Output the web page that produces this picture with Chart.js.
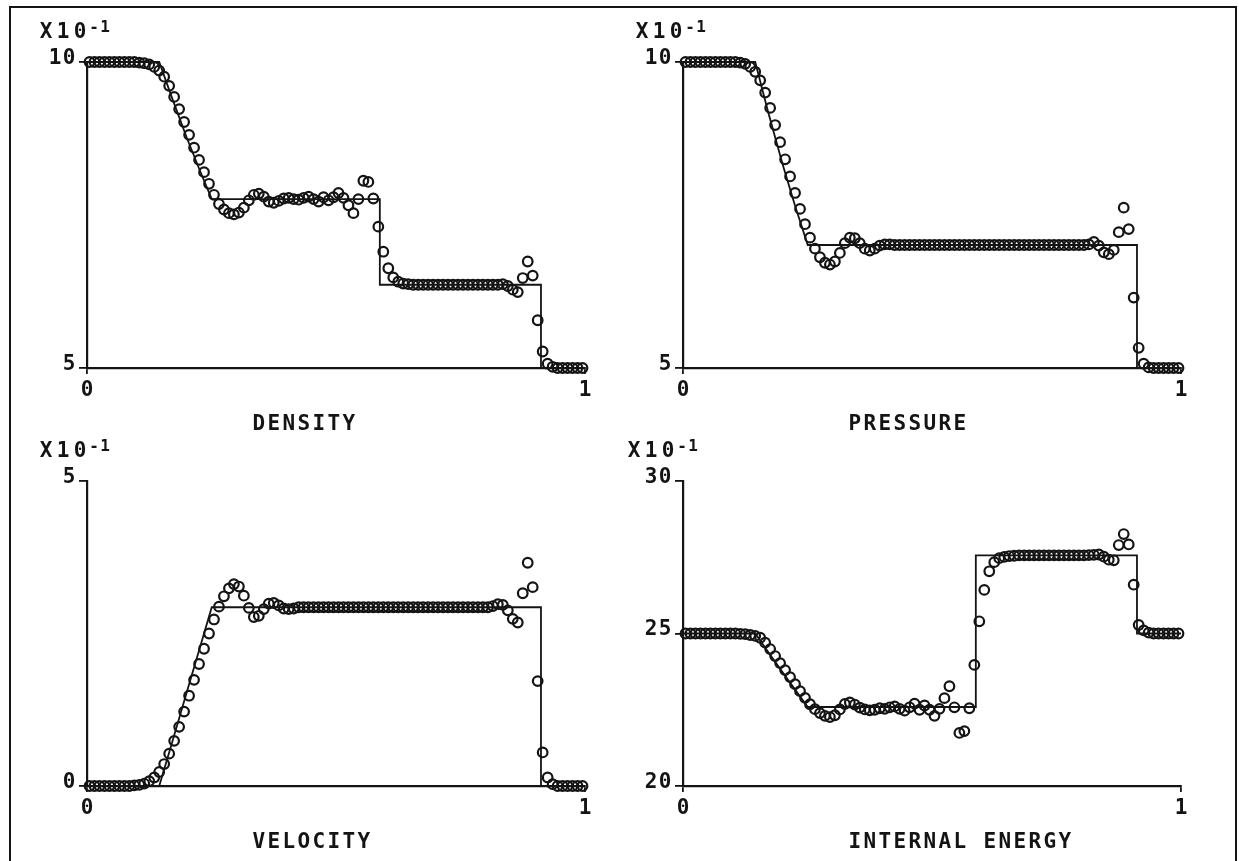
<!DOCTYPE html>
<html>
<head>
<meta charset="utf-8">
<title>Shock tube</title>
<script src="https://cdn.jsdelivr.net/npm/chart.js@4.4.1/dist/chart.umd.min.js"></script>
<style>
    html, body { margin: 0; padding: 0; background: #fff; }
    #page { position: relative; width: 1239px; height: 861px; overflow: hidden; background: #fff; }
    #frame {
        position: absolute; left: 9px; top: 6px; width: 1228px; height: 900px;
        border: 2.5px solid #141414; box-sizing: border-box;
    }
    canvas { position: absolute; }
</style>
</head>
<body>
<div id="page">
    <div id="frame"></div>
    <canvas id="density-chart" width="620" height="430" style="left:0px;top:0px;width:620px;height:430px"></canvas>
    <canvas id="pressure-chart" width="619" height="430" style="left:620px;top:0px;width:619px;height:430px"></canvas>
    <canvas id="velocity-chart" width="620" height="431" style="left:0px;top:430px;width:620px;height:431px"></canvas>
    <canvas id="energy-chart" width="619" height="431" style="left:620px;top:430px;width:619px;height:431px"></canvas>
</div>
<script>
// cell centres, 100 cells on [0, 1]
const cellX = [
    0.005, 0.015, 0.025, 0.035, 0.045, 0.055, 0.065, 0.075, 0.085, 0.095,
    0.105, 0.115, 0.125, 0.135, 0.145, 0.155, 0.165, 0.175, 0.185, 0.195,
    0.205, 0.215, 0.225, 0.235, 0.245, 0.255, 0.265, 0.275, 0.285, 0.295,
    0.305, 0.315, 0.325, 0.335, 0.345, 0.355, 0.365, 0.375, 0.385, 0.395,
    0.405, 0.415, 0.425, 0.435, 0.445, 0.455, 0.465, 0.475, 0.485, 0.495,
    0.505, 0.515, 0.525, 0.535, 0.545, 0.555, 0.565, 0.575, 0.585, 0.595,
    0.605, 0.615, 0.625, 0.635, 0.645, 0.655, 0.665, 0.675, 0.685, 0.695,
    0.705, 0.715, 0.725, 0.735, 0.745, 0.755, 0.765, 0.775, 0.785, 0.795,
    0.805, 0.815, 0.825, 0.835, 0.845, 0.855, 0.865, 0.875, 0.885, 0.895,
    0.905, 0.915, 0.925, 0.935, 0.945, 0.955, 0.965, 0.975, 0.985, 0.995
];

// computed values (circles)
const densityNum = [
    1.000, 1.000, 1.000, 1.000, 1.000, 1.000, 1.000, 1.000, 1.000, 1.000,
    0.999, 0.998, 0.996, 0.992, 0.986, 0.976, 0.961, 0.943, 0.923, 0.902,
    0.881, 0.860, 0.840, 0.820, 0.801, 0.783, 0.768, 0.759, 0.753, 0.751,
    0.754, 0.762, 0.774, 0.783, 0.785, 0.780, 0.772, 0.770, 0.773, 0.777,
    0.778, 0.776, 0.775, 0.778, 0.780, 0.776, 0.772, 0.779, 0.774, 0.779,
    0.786, 0.778, 0.766, 0.753, 0.776, 0.806, 0.804, 0.777, 0.731, 0.690,
    0.663, 0.648, 0.641, 0.638, 0.637, 0.636, 0.636, 0.636, 0.636, 0.636,
    0.636, 0.636, 0.636, 0.636, 0.636, 0.636, 0.636, 0.636, 0.636, 0.636,
    0.636, 0.636, 0.636, 0.637, 0.634, 0.628, 0.624, 0.647, 0.674, 0.651,
    0.578, 0.527, 0.507, 0.502, 0.500, 0.500, 0.500, 0.500, 0.500, 0.500
];
const pressureNum = [
    1.000, 1.000, 1.000, 1.000, 1.000, 1.000, 1.000, 1.000, 1.000, 1.000,
    1.000, 0.999, 0.997, 0.992, 0.984, 0.970, 0.950, 0.925, 0.897, 0.869,
    0.841, 0.813, 0.786, 0.760, 0.735, 0.713, 0.695, 0.681, 0.672, 0.669,
    0.674, 0.688, 0.704, 0.713, 0.712, 0.704, 0.695, 0.692, 0.695, 0.700,
    0.702, 0.702, 0.701, 0.701, 0.701, 0.701, 0.701, 0.701, 0.701, 0.701,
    0.701, 0.701, 0.701, 0.701, 0.701, 0.701, 0.701, 0.701, 0.701, 0.701,
    0.701, 0.701, 0.701, 0.701, 0.701, 0.701, 0.701, 0.701, 0.701, 0.701,
    0.701, 0.701, 0.701, 0.701, 0.701, 0.701, 0.701, 0.701, 0.701, 0.701,
    0.701, 0.702, 0.706, 0.700, 0.689, 0.686, 0.693, 0.722, 0.762, 0.727,
    0.615, 0.533, 0.507, 0.501, 0.500, 0.500, 0.500, 0.500, 0.500, 0.500
];
const velocityNum = [
    0.000, 0.000, 0.000, 0.000, 0.000, 0.000, 0.000, 0.000, 0.000, 0.001,
    0.002, 0.004, 0.008, 0.014, 0.023, 0.036, 0.053, 0.074, 0.097, 0.122,
    0.148, 0.174, 0.200, 0.225, 0.250, 0.273, 0.294, 0.311, 0.324, 0.331,
    0.327, 0.312, 0.292, 0.277, 0.279, 0.290, 0.299, 0.300, 0.296, 0.291,
    0.290, 0.291, 0.293, 0.293, 0.293, 0.293, 0.293, 0.293, 0.293, 0.293,
    0.293, 0.293, 0.293, 0.293, 0.293, 0.293, 0.293, 0.293, 0.293, 0.293,
    0.293, 0.293, 0.293, 0.293, 0.293, 0.293, 0.293, 0.293, 0.293, 0.293,
    0.293, 0.293, 0.293, 0.293, 0.293, 0.293, 0.293, 0.293, 0.293, 0.293,
    0.293, 0.295, 0.298, 0.297, 0.288, 0.274, 0.268, 0.316, 0.366, 0.326,
    0.172, 0.055, 0.014, 0.003, 0.000, 0.000, 0.000, 0.000, 0.000, 0.000
];
const energyNum = [
    2.500, 2.500, 2.500, 2.500, 2.500, 2.500, 2.500, 2.500, 2.500, 2.500,
    2.500, 2.499, 2.498, 2.495, 2.492, 2.486, 2.470, 2.449, 2.426, 2.403,
    2.380, 2.357, 2.334, 2.311, 2.289, 2.268, 2.252, 2.239, 2.230, 2.226,
    2.232, 2.251, 2.269, 2.274, 2.267, 2.257, 2.251, 2.248, 2.250, 2.255,
    2.253, 2.258, 2.261, 2.253, 2.247, 2.258, 2.270, 2.250, 2.264, 2.250,
    2.230, 2.253, 2.288, 2.327, 2.258, 2.174, 2.180, 2.255, 2.397, 2.540,
    2.643, 2.704, 2.734, 2.747, 2.751, 2.754, 2.755, 2.756, 2.756, 2.756,
    2.756, 2.756, 2.756, 2.756, 2.756, 2.756, 2.756, 2.756, 2.756, 2.756,
    2.756, 2.757, 2.758, 2.759, 2.752, 2.742, 2.740, 2.790, 2.826, 2.792,
    2.660, 2.528, 2.510, 2.503, 2.500, 2.500, 2.500, 2.500, 2.500, 2.500
];

// exact solution (solid line), vertices
const exactX = [0, 0.145, 0.17, 0.2, 0.225, 0.2505, 0.588, 0.588, 0.9116, 0.9116, 1];
const densityExact = [1, 1, 0.943, 0.877, 0.826, 0.776, 0.776, 0.636, 0.636, 0.5, 0.5];
const pressureExact = [1, 1, 0.921, 0.833, 0.765, 0.701, 0.701, 0.701, 0.701, 0.5, 0.5];
const velocityExact = [0, 0, 0.069, 0.153, 0.222, 0.293, 0.293, 0.293, 0.293, 0, 0];
const energyExact = [2.5, 2.5, 2.442, 2.373, 2.316, 2.259, 2.259, 2.756, 2.756, 2.5, 2.5];

// axes
const xTicks = [0, 1];
const xTickLabels = ['0', '1'];
const densityTicks = [0.5, 1.0];
const densityTickLabels = ['5', '10'];
const pressureTicks = [0.5, 1.0];
const pressureTickLabels = ['5', '10'];
const velocityTicks = [0, 0.5];
const velocityTickLabels = ['0', '5'];
const energyTicks = [2.0, 2.5, 3.0];
const energyTickLabels = ['20', '25', '30'];
const multBase = 'X10';
const multExp = '-1';

const INK = '#141414';
const FONT = '"DejaVu Sans Mono", "Liberation Mono", monospace';

// draws text glyph by glyph on a fixed pitch, like the pen plotter did
function drawSpaced(ctx, text, x, y, pitch, align) {
    const span = pitch * (text.length - 1);
    let first = x;
    if (align === 'right') first = x - span;
    else if (align === 'center') first = x - span / 2;
    for (let k = 0; k < text.length; k++) {
        ctx.fillText(text[k], first + k * pitch, y);
    }
}

const plotterText = {
    id: 'plotterText',
    afterDraw(chart, args, opts) {
        const ctx = chart.ctx;
        const area = chart.chartArea;
        const xs = chart.scales.x;
        const ys = chart.scales.y;
        ctx.save();
        ctx.fillStyle = INK;
        ctx.textAlign = 'center';
        ctx.textBaseline = 'alphabetic';

        ctx.font = 'bold 21px ' + FONT;
        // y labels sit on their tick, left of the axis
        opts.yTicks.forEach((v, i) => {
            drawSpaced(ctx, opts.yLabels[i], area.left - 18, ys.getPixelForValue(v) + 1.5, 14, 'right');
        });
        // x labels under their tick
        xTicks.forEach((v, i) => {
            drawSpaced(ctx, xTickLabels[i], xs.getPixelForValue(v), area.bottom + 28, 14, 'center');
        });
        // scale factor X10^-1
        const mx = area.left + opts.multOffset;
        drawSpaced(ctx, multBase, mx, area.top - 24, 17, 'left');
        ctx.font = 'bold 16px ' + FONT;
        drawSpaced(ctx, multExp, mx + 48, area.top - 30, 11, 'left');

        // panel title, left aligned at a third of the axis
        ctx.font = 'bold 21px ' + FONT;
        const tx = area.left + (area.right - area.left) * 0.333 + 6;
        drawSpaced(ctx, opts.title, tx, area.bottom + 62, 15, 'left');
        ctx.restore();
    }
};

function makePanel(cfg) {
    const canvas = document.getElementById(cfg.canvasId);
    const [bx, by, bw, bh] = cfg.box;
    const [left, top, right, bottom] = cfg.area;

    return new Chart(canvas, {
        type: 'scatter',
        data: {
            datasets: [
                {
                    label: 'exact',
                    data: exactX.map((x, i) => ({ x: x, y: cfg.exact[i] })),
                    showLine: true,
                    borderColor: INK,
                    borderWidth: 1.8,
                    borderJoinStyle: 'miter',
                    tension: 0,
                    pointRadius: 0,
                    clip: false
                },
                {
                    label: 'computed',
                    data: cellX.map((x, i) => ({ x: x, y: cfg.values[i] })),
                    showLine: false,
                    pointStyle: 'circle',
                    pointRadius: 4.8,
                    pointBorderWidth: 2.2,
                    pointBorderColor: INK,
                    pointBackgroundColor: 'rgba(0,0,0,0)',
                    clip: false
                }
            ]
        },
        options: {
            responsive: false,
            devicePixelRatio: 1,
            animation: false,
            events: [],
            layout: {
                autoPadding: false,
                padding: { left: left - bx, top: top - by, right: bx + bw - right, bottom: by + bh - bottom }
            },
            plugins: {
                legend: { display: false },
                tooltip: { enabled: false },
                plotterText: {
                    title: cfg.title,
                    yTicks: cfg.yTicks,
                    yLabels: cfg.yLabels,
                    multOffset: cfg.multOffset
                }
            },
            scales: {
                x: {
                    type: 'linear',
                    position: 'bottom',
                    min: 0,
                    max: 1,
                    afterBuildTicks: s => { s.ticks = xTicks.map(v => ({ value: v })); },
                    afterFit: s => { s.height = 0; },
                    ticks: { display: false },
                    grid: { drawOnChartArea: false, drawTicks: true, tickLength: 6, color: INK, lineWidth: 1.8 },
                    border: { display: true, color: INK, width: 2.2 }
                },
                y: {
                    type: 'linear',
                    position: 'left',
                    min: cfg.yMin,
                    max: cfg.yMax,
                    afterBuildTicks: s => { s.ticks = cfg.yTicks.map(v => ({ value: v })); },
                    afterFit: s => { s.width = 0; },
                    ticks: { display: false },
                    grid: { drawOnChartArea: false, drawTicks: true, tickLength: 8, color: INK, lineWidth: 1.8 },
                    border: { display: true, color: INK, width: 2.2 }
                }
            }
        },
        plugins: [plotterText]
    });
}

makePanel({
    canvasId: 'density-chart', title: 'DENSITY',
    box: [0, 0, 620, 430], area: [87, 62, 585, 368],
    values: densityNum, exact: densityExact,
    yMin: 0.5, yMax: 1.0, yTicks: densityTicks, yLabels: densityTickLabels, multOffset: -41
});
makePanel({
    canvasId: 'pressure-chart', title: 'PRESSURE',
    box: [620, 0, 619, 430], area: [683, 62, 1181, 368],
    values: pressureNum, exact: pressureExact,
    yMin: 0.5, yMax: 1.0, yTicks: pressureTicks, yLabels: pressureTickLabels, multOffset: -41
});
makePanel({
    canvasId: 'velocity-chart', title: 'VELOCITY',
    box: [0, 430, 620, 431], area: [87, 481, 585, 786],
    values: velocityNum, exact: velocityExact,
    yMin: 0, yMax: 0.5, yTicks: velocityTicks, yLabels: velocityTickLabels, multOffset: -41
});
makePanel({
    canvasId: 'energy-chart', title: 'INTERNAL ENERGY',
    box: [620, 430, 619, 431], area: [683, 481, 1181, 786],
    values: energyNum, exact: energyExact,
    yMin: 2.0, yMax: 3.0, yTicks: energyTicks, yLabels: energyTickLabels, multOffset: -49
});
</script>
</body>
</html>
